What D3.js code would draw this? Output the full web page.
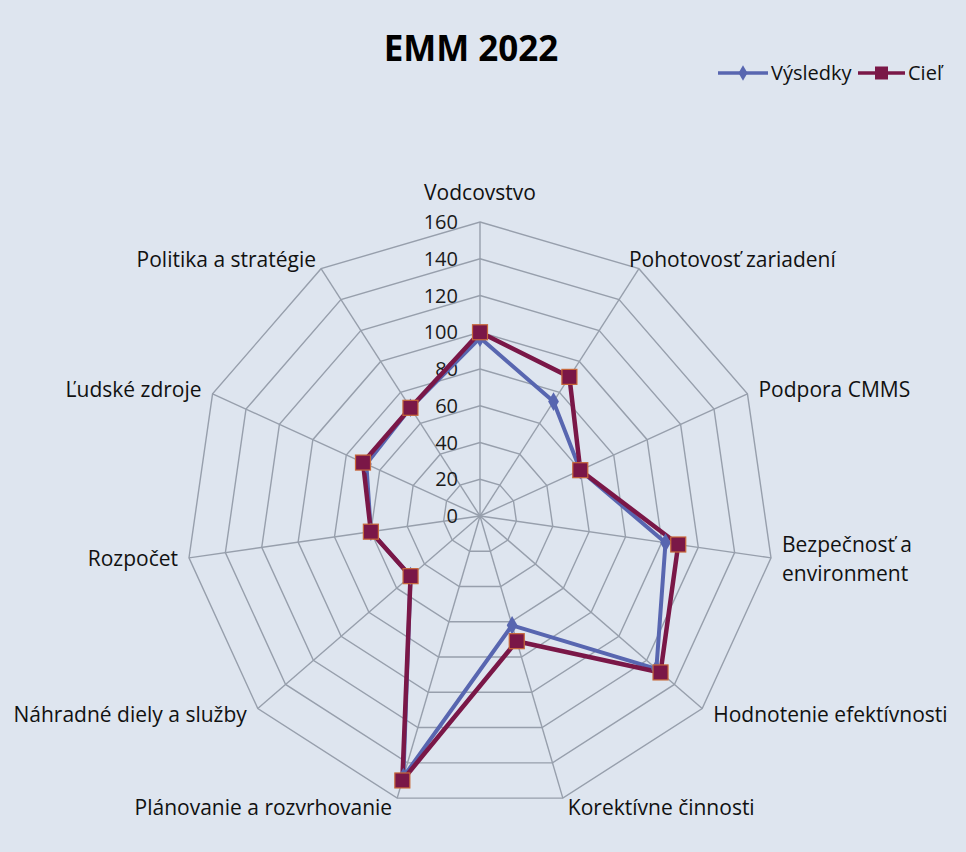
<!DOCTYPE html>
<html>
<head>
<meta charset="utf-8">
<script src="https://cdn.jsdelivr.net/npm/d3@7"></script>
<style>
  html, body { margin: 0; padding: 0; background: #dee5ef; }
  svg { display: block; font-family: "Open Sans", Lato, sans-serif; }
</style>
</head>
<body>
<svg id="chart" width="966" height="852"></svg>
<script>
// categories, clockwise from the top
let categories = ['Vodcovstvo', 'Pohotovosť zariadení', 'Podpora CMMS', 'Bezpečnosť a environment',
  'Hodnotenie efektívnosti', 'Korektívne činnosti', 'Plánovanie a rozvrhovanie',
  'Náhradné diely a služby', 'Rozpočet', 'Ľudské zdroje', 'Politika a stratégie']
let vysledky = [97, 74, 60, 102, 127, 62, 148, 50, 60, 68, 70]
let ciel = [100, 90, 60, 109, 130, 71, 150, 50, 60, 70, 70]
let ticks = [0, 20, 40, 60, 80, 100, 120, 140, 160]
let seriesNames = ['Výsledky', 'Cieľ']

let svg = d3.select('#chart')
let cx = 480, cy = 516
let R = 294
let n = categories.length

let r = d3.scaleLinear().domain([0, 160]).range([0, R])
let angle = d3.scaleLinear().domain([0, n]).range([0, 2 * Math.PI])

let colors = { 'Výsledky': '#5866b0', 'Cieľ': '#7a1747' }

let g = svg.append('g').attr('transform', `translate(${cx},${cy})`)

// point on axis i at value v
let pt = (i, v) => [Math.sin(angle(i)) * r(v), -Math.cos(angle(i)) * r(v)]

// grid rings
let ring = d3.line().curve(d3.curveLinearClosed)
g.selectAll('.ring')
  .data(ticks.slice(1))
  .enter()
  .append('path')
  .attr('class', 'ring')
  .attr('d', t => ring(d3.range(n).map(i => pt(i, t))))
  .attr('fill', 'none')
  .attr('stroke', '#979fac')
  .attr('stroke-width', 1.4)

// spokes
g.selectAll('.spoke')
  .data(d3.range(n))
  .enter()
  .append('line')
  .attr('class', 'spoke')
  .attr('x1', 0).attr('y1', 0)
  .attr('x2', i => pt(i, 160)[0])
  .attr('y2', i => pt(i, 160)[1])
  .attr('stroke', '#979fac')
  .attr('stroke-width', 1.4)

// tick labels along the top spoke
g.selectAll('.tick')
  .data(ticks)
  .enter()
  .append('text')
  .attr('class', 'tick')
  .attr('x', -22)
  .attr('y', t => -r(t) + 7)
  .attr('text-anchor', 'end')
  .attr('font-size', 20)
  .attr('fill', '#1a1a1a')
  .text(t => t)

// category labels
let labels = g.selectAll('.cat')
  .data(categories)
  .enter()
  .append('text')
  .attr('class', 'cat')
  .attr('font-size', 21)
  .attr('fill', '#111')
  .attr('text-anchor', (d, i) => {
    let s = Math.sin(angle(i))
    return Math.abs(s) < 0.1 ? 'middle' : (s > 0 ? 'start' : 'end')
  })
  .attr('transform', (d, i) => {
    let [x, y] = pt(i, 160)
    let s = Math.sin(angle(i)), c = Math.cos(angle(i))
    let dx = Math.abs(s) < 0.1 ? 0 : Math.sign(s) * (Math.abs(c) > 0.8 ? 5 : 11)
    if (s > 0 && c > 0.8) dx = -10
    let dy = Math.abs(s) < 0.1 ? -29 : -10 * c
    return `translate(${x + dx},${y + dy + 7})`
  })

labels.each(function (d) {
  let t = d3.select(this)
  if (d === 'Bezpečnosť a environment') {
    t.append('tspan').attr('x', 0).attr('dy', -14).text('Bezpečnosť a')
    t.append('tspan').attr('x', 0).attr('dy', 29).text('environment')
  } else {
    t.text(d)
  }
})

// series
let radial = d3.lineRadial()
  .angle((d, i) => angle(i))
  .radius(d => r(d))
  .curve(d3.curveLinearClosed)

// Výsledky
g.append('path')
  .attr('d', radial(vysledky))
  .attr('fill', 'none')
  .attr('stroke', colors['Výsledky'])
  .attr('stroke-width', 4)
  .attr('stroke-linejoin', 'round')

// Cieľ
g.append('path')
  .attr('d', radial(ciel))
  .attr('fill', 'none')
  .attr('stroke', colors['Cieľ'])
  .attr('stroke-width', 4.5)
  .attr('stroke-linejoin', 'round')

let diamond = d3.symbol().type(d3.symbolDiamond).size(100)
g.selectAll('.mv')
  .data(vysledky)
  .enter()
  .append('path')
  .attr('class', 'mv')
  .attr('d', diamond)
  .attr('transform', (d, i) => `translate(${pt(i, d)})`)
  .attr('fill', colors['Výsledky'])

g.selectAll('.mc')
  .data(ciel)
  .enter()
  .append('rect')
  .attr('class', 'mc')
  .attr('x', (d, i) => pt(i, d)[0] - 7.5)
  .attr('y', (d, i) => pt(i, d)[1] - 7.5)
  .attr('width', 15)
  .attr('height', 15)
  .attr('fill', colors['Cieľ'])
  .attr('stroke', '#c8683a')
  .attr('stroke-width', 1.2)

// title
svg.append('text')
  .attr('x', 471)
  .attr('y', 61)
  .attr('text-anchor', 'middle')
  .attr('font-size', 35)
  .attr('font-weight', 'bold')
  .attr('fill', '#000')
  .text('EMM 2022')

// legend
let legend = svg.append('g').attr('transform', 'translate(718,73)')
let lx = [0, 140]
seriesNames.forEach((s, k) => {
  let lg = legend.append('g').attr('transform', `translate(${lx[k]},0)`)
  let w = k === 0 ? 50 : 47
  lg.append('line').attr('x1', 0).attr('x2', w).attr('y1', 0).attr('y2', 0)
    .attr('stroke', colors[s]).attr('stroke-width', 3.5)
  if (k === 0) {
    lg.append('path').attr('d', d3.symbol().type(d3.symbolDiamond).size(70))
      .attr('transform', `translate(${w / 2},0)`).attr('fill', colors[s])
  } else {
    lg.append('rect').attr('x', w / 2 - 6.5).attr('y', -6.5).attr('width', 13).attr('height', 13)
      .attr('fill', colors[s])
  }
  lg.append('text').attr('x', w + 3).attr('y', 7).attr('font-size', 20).attr('fill', '#111').text(s)
})
</script>
</body>
</html>
